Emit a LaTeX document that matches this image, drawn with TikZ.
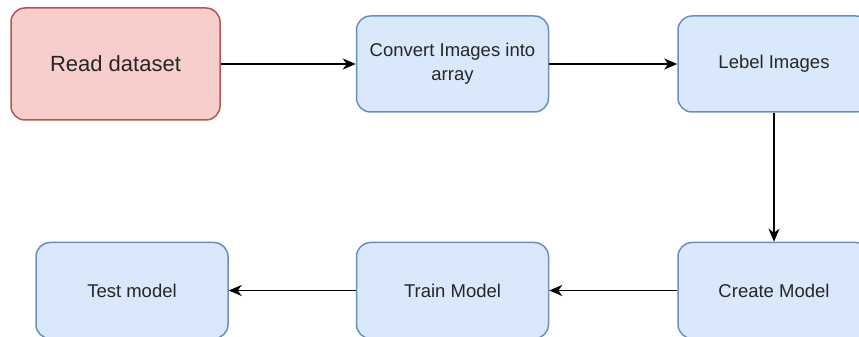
\documentclass[tikz,border=0pt]{standalone}
\usepackage{fontspec}
\setmainfont{Liberation Sans}
\usepackage{xcolor}
\usetikzlibrary{arrows.meta, positioning}

\definecolor{redfill}{HTML}{F8CECC}
\definecolor{redline}{HTML}{B85450}
\definecolor{bluefill}{HTML}{DAE8FC}
\definecolor{blueline}{HTML}{6C8EBF}

\begin{document}
\begin{tikzpicture}[
  x=1pt, y=1pt,
  stepbox/.style={rectangle, rounded corners=14pt, draw=blueline, fill=bluefill,
    line width=1.5pt, minimum width=192pt, minimum height=96pt, align=center,
    text=black!85, font=\fontsize{18.5}{24}\selectfont},
  startbox/.style={stepbox, draw=redline, fill=redfill, minimum width=209pt,
    minimum height=112pt, font=\fontsize{22}{26}\selectfont},
  edge/.style={-{Stealth[length=13pt, width=11pt, inset=4pt]}, line width=1.6pt},
  node distance=128pt
]
\useasboundingbox (0,0) rectangle (859,337);

\node[startbox] (read) at (115.5,273) {Read dataset};
\node[stepbox, right=135pt of read] (convert) {Convert Images into\\array};
\node[stepbox, right=of convert] (label) {Lebel Images};
\node[stepbox, below=129pt of label] (create) {Create Model};
\node[stepbox, left=of create] (train) {Train Model};
\node[stepbox, left=127pt of train] (test) {Test model};

\draw[edge] (read) -- (convert);
\draw[edge] (convert) -- (label);
\draw[edge] (label) -- (create);
\draw[edge] (create) -- (train);
\draw[edge] (train) -- (test);
\end{tikzpicture}
\end{document}
